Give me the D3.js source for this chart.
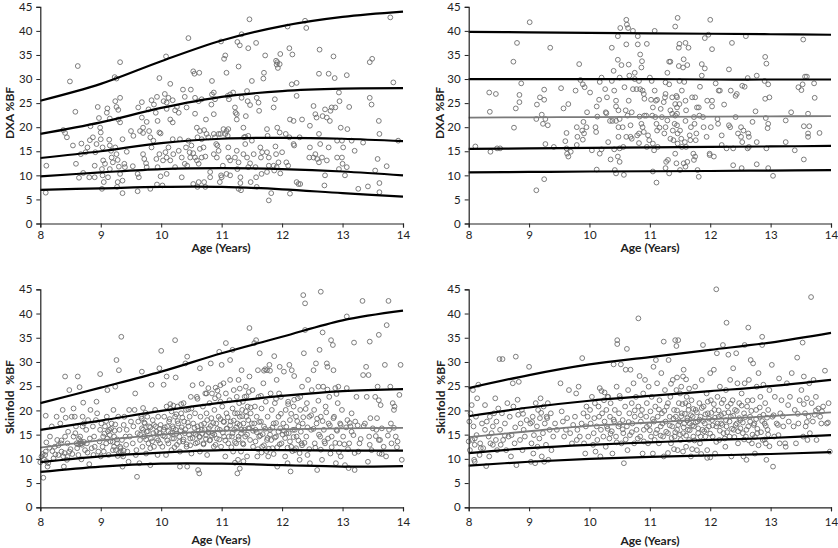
<!DOCTYPE html>
<html><head><meta charset="utf-8">
<script src="https://cdn.jsdelivr.net/npm/d3@7"></script>
<style>
body{margin:0;background:#fff;}
svg{display:block;font-family:Lato,"Open Sans",sans-serif;}
.ttl{font-size:12px;font-weight:bold;fill:#222;white-space:pre;}
</style></head><body>
<script>
const xTicks = [8,9,10,11,12,13,14];
const yTicks = [0,5,10,15,20,25,30,35,40,45];
const curveAges = [8,9,10,11,12,13,14];

const p1Curves = [
  [25.5,29.0,33.7,38.0,41.0,42.9,44.0],
  [18.6,21.0,24.0,26.3,27.5,28.0,28.1],
  [13.6,15.0,16.7,17.6,17.8,17.6,17.1],
  [9.8,10.6,11.3,11.5,11.3,10.8,10.0],
  [7.0,7.3,7.6,7.6,7.1,6.3,5.6]
];
const p1Gray = [false,false,false,false,false];
const p2Curves = [
  [39.8,39.7,39.6,39.5,39.4,39.3,39.2],
  [30.0,30.0,30.0,30.0,29.9,29.9,29.9],
  [22.0,22.05,22.1,22.15,22.2,22.25,22.3],
  [15.5,15.6,15.7,15.8,15.9,16.0,16.1],
  [10.6,10.7,10.8,10.85,10.9,11.0,11.1]
];
const p2Gray = [false,false,true,false,false];
const p3Curves = [
  [21.5,24.7,28.0,31.8,35.2,38.6,40.6],
  [16.0,17.9,19.9,21.6,23.0,24.0,24.4],
  [12.3,13.8,15.0,15.8,16.1,16.3,16.4],
  [9.3,10.5,11.3,11.8,11.8,11.7,11.7],
  [7.3,8.4,9.0,9.0,8.7,8.4,8.5]
];
const p3Gray = [false,false,true,false,false];
const p4Curves = [
  [24.6,27.3,29.5,31.0,32.5,34.0,36.0],
  [18.8,20.6,22.0,23.0,24.0,25.0,26.3],
  [14.5,15.7,16.8,17.5,18.2,18.8,19.6],
  [11.2,12.2,12.9,13.4,13.9,14.3,14.9],
  [8.6,9.4,10.0,10.4,10.7,11.0,11.4]
];
const p4Gray = [false,false,true,false,false];

const p1Points = [
[8.09,6.4],[8.1,12.0],[8.49,29.5],[8.62,32.7],[8.58,23.2],[8.38,19.4],[8.41,18.8],[8.44,17.9],[8.54,16.2],[8.59,12.4],[8.64,9.5],[8.67,14.4],[8.68,16.6],[8.71,10.5],[8.75,14.8],[8.78,15.8],[8.81,9.6],[8.82,17.3],[8.83,20.2],[8.87,17.9],[8.9,9.6],[8.9,12.0],[8.91,14.8],[8.93,16.5],[8.95,24.2],[8.97,21.9],[8.99,19.9],[9,18.9],[9,17.5],[9.02,11.3],[9.02,7.2],[9.03,15.8],[9.04,13.1],[9.03,10.0],[9.05,8.6],[9.07,12.4],
[9.1,23.0],[9.11,23.9],[9.15,21.8],[9.14,17.4],[9.15,16.2],[9.17,15.1],[9.18,13.7],[9.2,12.7],[9.15,11.3],[9.12,9.6],[9.23,30.4],[9.26,30.1],[9.32,33.5],[9.24,25.4],[9.26,24.2],[9.29,23.6],[9.32,26.1],[9.29,21.6],[9.32,21.0],[9.24,15.8],[9.26,14.4],[9.28,13.2],[9.3,11.8],[9.32,10.3],[9.28,8.6],[9.27,7.6],[9.36,6.3],[9.36,8.9],[9.36,17.5],[9.39,12.4],[9.4,11.7],[9.43,14.9],[9.5,19.2],[9.54,18.2],[9.53,11.9],[9.61,10.3],[9.61,6.7],[9.63,9.6],[9.62,24.1],[9.68,25.2],[9.68,22.0],[9.7,19.9],[9.7,18.8],[9.65,19.2],[9.7,14.4],[9.72,13.4],[9.75,12.5],[9.76,11.7],[9.76,21.1],[9.79,23.7],[9.8,19.2],[9.82,17.9],[9.82,7.2],[9.84,15.8],[9.87,17.2],[9.84,25.6],[9.88,24.7],[9.93,26.3],[9.97,30.2],[9.91,23.0],[9.94,21.3],[9.97,18.9],[9.99,18.7],[9.92,13.4],[9.94,11.7],[9.97,14.4],[9.99,9.8],[9.93,8.1],[10.02,7.9],
[10.08,34.7],[10.06,26.9],[10.04,25.4],[10.09,25.1],[10.12,26.1],[10.15,29.0],[10.19,25.6],[10.09,23.8],[10.15,21.6],[10.19,21.0],[10.23,23.5],[10.26,24.2],[10.29,23.0],[10.07,14.8],[10.03,13.1],[10.09,13.7],[10.12,15.8],[10.15,13.1],[10.19,17.5],[10.2,14.4],[10.23,11.7],[10.09,10.3],[10.29,15.1],[10.31,17.5],[10.34,13.7],[10.34,9.6],[10.36,27.8],[10.39,26.3],[10.42,24.1],[10.45,38.5],[10.49,27.8],[10.39,12.4],[10.41,15.8],[10.45,17.2],[10.47,14.8],[10.48,13.7],[10.43,12.0],[10.5,16.2],[10.53,31.6],[10.55,31.1],[10.63,31.3],[10.56,26.1],[10.62,25.4],[10.67,25.8],[10.56,22.8],[10.59,19.9],[10.64,19.2],[10.71,19.4],[10.53,14.6],[10.56,13.7],[10.59,13.1],[10.62,12.4],[10.64,15.5],[10.67,13.7],[10.7,15.8],[10.73,13.9],[10.6,17.9],[10.67,17.5],[10.53,8.2],[10.62,8.6],[10.6,7.6],[10.71,8.6],[10.74,21.6],[10.75,18.6],[10.78,17.9],[10.81,10.7],[10.73,7.6],[10.81,9.6],[10.84,29.6],[10.84,26.8],[10.87,27.2],[10.89,25.8],[10.83,24.7],[10.87,22.7],[10.87,18.6],[10.89,17.9],[10.91,16.5],[10.93,16.2],[10.95,18.6],[10.87,14.4],[10.92,13.7],[10.95,15.1],[10.98,18.6],[10.99,37.8],[10.99,10.0],[11,9.6],[10.97,8.6],
[11.04,34.2],[11.06,34.9],[11.08,31.3],[11.1,26.5],[11.12,25.8],[11.14,26.8],[11.02,12.0],[11.03,19.6],[11.06,18.6],[11.08,19.2],[11.11,19.6],[11.1,18.2],[11.11,13.7],[11.14,13.1],[11.08,10.3],[11.11,15.8],[11.14,10.0],[11.19,27.2],[11.22,24.1],[11.23,23.0],[11.25,22.7],[11.25,21.6],[11.25,15.1],[11.22,13.7],[11.26,11.3],[11.28,12.7],[11.28,7.2],[11.31,9.6],[11.31,8.4],[11.32,6.9],[11.26,37.7],[11.3,37.0],[11.28,32.6],[11.33,39.3],[11.33,26.1],[11.36,19.9],[11.37,17.9],[11.39,16.5],[11.4,22.3],[11.42,27.5],[11.43,25.4],[11.36,14.4],[11.42,13.7],[11.39,18.0],[11.44,18.2],[11.44,11.7],[11.47,12.5],[11.48,8.6],[11.44,36.4],[11.46,42.4],[11.5,29.6],[11.47,24.6],[11.5,17.2],[11.53,14.4],[11.56,11.7],[11.57,9.6],[11.58,26.1],[11.57,37.5],[11.58,7.6],[11.61,25.1],[11.62,23.4],[11.64,15.8],[11.65,13.7],[11.67,14.8],[11.66,10.3],[11.72,34.9],[11.7,31.3],[11.69,30.1],[11.75,19.6],[11.76,18.2],[11.75,14.8],[11.78,13.7],[11.78,12.0],[11.75,10.7],[11.78,4.8],[11.82,6.3],[11.86,24.1],[11.88,25.8],[11.9,33.8],[11.91,33.0],[11.93,32.3],[11.92,33.5],[11.96,33.1],[11.97,35.2],[11.89,16.0],[11.9,14.4],[11.91,11.7],[11.94,12.7],[11.92,19.9],[11.96,18.9],[11.97,10.4],[12,14.8],[11.86,12.0],[11.87,11.0],
[12.09,40.9],[12.12,36.4],[12.17,35.1],[12.13,21.6],[12.16,28.9],[12.24,29.2],[12.24,26.5],[12.06,18.6],[12.07,12.7],[12.1,12.0],[12.12,17.9],[12.13,6.2],[12.19,21.3],[12.19,16.5],[12.2,16.2],[12.24,8.6],[12.27,8.2],[12.3,8.2],[12.29,17.9],[12.38,42.1],[12.4,40.6],[12.33,21.6],[12.46,20.3],[12.46,15.8],[12.45,13.7],[12.52,24.4],[12.55,22.7],[12.57,22.0],[12.52,13.7],[12.58,13.4],[12.55,14.4],[12.61,12.7],[12.61,18.6],[12.61,31.1],[12.62,36.1],[12.63,16.5],[12.66,13.7],[12.67,22.3],[12.71,10.0],[12.7,7.9],[12.71,23.7],[12.77,31.1],[12.74,22.0],[12.79,21.3],[12.8,23.4],[12.77,15.8],[12.74,13.1],[12.82,24.1],[12.85,34.7],[12.87,30.2],[12.88,24.1],[12.91,17.2],[12.91,13.7],[12.94,11.3],[12.94,27.2],[12.95,25.4],[12.97,19.9],[12.99,17.2],[12.99,13.7],[13,12.4],[13.01,15.8],
[13.07,30.8],[13.08,19.6],[13.07,11.7],[13.04,10.0],[13.11,24.2],[13.15,17.2],[13.2,15.1],[13.26,7.2],[13.34,16.8],[13.42,7.7],[13.45,33.5],[13.49,34.2],[13.45,26.1],[13.48,24.7],[13.54,11.0],[13.58,13.4],[13.6,21.3],[13.61,18.6],[13.61,8.4],[13.61,6.5],[13.73,11.9],[13.79,42.8],[13.84,29.3],[13.92,17.2]
];

const p2Points = [
[8.11,16.0],[8.34,27.2],[8.35,23.2],[8.36,14.9],[8.45,26.9],[8.47,15.6],[8.52,15.6],[8.74,33.6],[8.75,19.9],[8.78,23.9],[8.8,37.5],[8.84,26.7],[8.84,25.2],[8.87,29.1],[9.01,41.8],[9.13,24.7],[9.12,21.7],[9.12,6.9],[9.18,26.2],[9.21,22.6],[9.23,20.7],[9.25,27.8],[9.25,25.7],[9.27,21.7],[9.27,16.5],[9.25,9.2],[9.31,20.4],[9.35,36.5],[9.41,15.9],[9.53,28.1],[9.57,23.9],[9.6,17.1],[9.62,18.8],[9.65,24.8],[9.62,15.6],[9.63,14.5],[9.65,13.9],[9.69,14.9],[9.77,27.6],[9.79,20.0],[9.8,18.0],[9.79,16.3],[9.83,33.1],[9.85,29.8],[9.89,28.9],[9.92,28.3],[9.88,19.3],[9.9,21.1],[9.91,18.7],[9.89,17.4],[9.95,20.0],[9.96,23.1],[10.01,27.2],[10.04,15.2],
[10.1,20.0],[10.11,19.0],[10.12,24.3],[10.13,22.2],[10.12,11.2],[10.16,25.7],[10.17,29.4],[10.2,30.3],[10.17,14.5],[10.2,15.4],[10.26,27.9],[10.27,23.1],[10.28,22.9],[10.29,26.2],[10.31,16.9],[10.34,21.3],[10.35,13.3],[10.37,29.6],[10.38,21.3],[10.4,31.7],[10.41,27.6],[10.37,36.5],[10.41,15.4],[10.42,11.1],[10.44,21.3],[10.44,24.3],[10.47,38.9],[10.47,34.0],[10.5,30.3],[10.48,23.5],[10.5,21.7],[10.48,20.0],[10.44,25.5],[10.48,18.0],[10.5,15.6],[10.47,13.9],[10.5,12.8],[10.44,10.4],[10.51,40.6],[10.53,32.9],[10.55,20.0],[10.56,15.9],[10.58,28.3],[10.6,23.5],[10.57,10.1],[10.61,18.0],[10.61,42.3],[10.62,41.3],[10.64,40.6],[10.61,37.2],[10.65,33.0],[10.66,30.7],[10.65,25.5],[10.63,22.4],[10.68,20.4],[10.68,18.0],[10.7,17.6],[10.7,23.1],[10.72,40.0],[10.72,27.9],[10.75,31.3],[10.75,30.0],[10.78,27.9],[10.79,18.3],[10.8,37.2],[10.82,18.7],[10.8,38.9],[10.82,29.6],[10.84,27.9],[10.83,22.2],[10.86,20.7],[10.82,16.7],[10.84,35.1],[10.87,33.7],[10.86,32.4],[10.88,27.6],[10.9,26.9],[10.91,25.9],[10.88,20.0],[10.91,22.4],[10.9,19.0],[10.94,22.4],[10.95,15.9],[10.97,18.3],[10.99,17.3],[10.95,37.3],[11,30.3],
[11.02,25.7],[11.03,29.6],[11.05,24.1],[11.04,22.4],[11.05,16.6],[11.08,40.0],[11.08,27.6],[11.1,25.5],[11.12,25.7],[11.09,22.1],[11.11,20.7],[11.12,19.3],[11.13,15.9],[11.07,15.2],[11.05,10.8],[11.11,8.5],[11.18,23.8],[11.16,19.9],[11.2,22.1],[11.23,25.2],[11.25,26.2],[11.26,26.9],[11.26,29.3],[11.24,18.7],[11.26,20.0],[11.29,21.4],[11.27,12.8],[11.3,13.2],[11.26,11.5],[11.29,31.3],[11.32,33.6],[11.34,33.6],[11.32,28.9],[11.32,10.4],[11.34,17.6],[11.34,23.5],[11.37,22.8],[11.37,26.2],[11.38,19.3],[11.39,17.3],[11.41,20.7],[11.42,22.4],[11.42,24.8],[11.42,40.9],[11.44,26.5],[11.45,26.2],[11.45,24.1],[11.45,22.8],[11.44,12.5],[11.42,14.5],[11.45,20.4],[11.46,18.7],[11.46,16.6],[11.46,42.7],[11.48,36.5],[11.49,37.3],[11.48,32.7],[11.49,29.6],[11.49,24.8],[11.5,19.3],[11.52,17.6],[11.53,15.9],[11.5,11.1],[11.53,27.6],[11.55,32.4],[11.56,34.1],[11.59,37.5],[11.57,29.4],[11.59,25.5],[11.6,23.5],[11.59,21.3],[11.6,15.9],[11.56,12.5],[11.59,11.8],[11.62,12.8],[11.58,16.9],[11.62,32.9],[11.64,36.5],[11.66,18.3],[11.67,17.3],[11.68,20.0],[11.7,26.2],[11.72,14.5],[11.73,22.1],[11.74,20.7],[11.75,26.2],[11.73,13.2],[11.75,13.9],[11.76,17.3],[11.77,18.7],[11.78,24.1],[11.81,24.1],[11.82,22.4],[11.79,11.1],[11.81,9.7],[11.83,28.4],[11.86,33.1],[11.86,30.7],[11.88,22.1],[11.89,20.0],[11.91,38.5],[11.91,32.2],[11.94,18.0],[11.95,25.5],[11.97,39.2],[11.99,14.5],[11.99,14.2],
[12,42.3],[12.01,20.0],[12.03,36.2],[12.03,25.5],[12.03,24.3],[12.06,13.9],[12.09,29.1],[12.12,21.7],[12.13,20.7],[12.14,27.6],[12.16,27.6],[12.19,18.3],[12.19,16.3],[12.23,24.7],[12.27,15.6],[12.31,32.0],[12.31,20.4],[12.33,20.0],[12.34,27.6],[12.36,37.5],[12.38,12.1],[12.38,15.6],[12.42,26.5],[12.42,22.1],[12.44,26.9],[12.46,18.7],[12.51,18.0],[12.51,20.0],[12.52,11.5],[12.53,16.9],[12.53,28.6],[12.55,19.3],[12.57,28.4],[12.59,38.9],[12.62,30.2],[12.63,18.7],[12.64,18.0],[12.62,15.6],[12.64,15.9],[12.7,21.1],[12.75,23.3],[12.77,16.9],[12.77,12.3],[12.77,30.7],[12.9,29.6],[12.91,34.6],[12.93,33.2],[12.91,25.9],[12.92,21.9],[12.95,19.8],[12.93,15.6],[12.96,28.9],[12.96,20.7],[12.98,26.2],[12.96,11.5],[13.04,9.9],[13.25,21.4],[13.25,16.9],[13.34,23.1],[13.4,15.2],[13.46,28.3],[13.51,27.7],[13.53,28.9],[13.54,38.2],[13.55,13.3],[13.55,20.2],[13.57,30.5],[13.6,30.5],[13.62,22.8],[13.62,18.7],[13.62,18.0],[13.64,20.2],[13.72,29.1],[13.73,26.1],[13.81,18.8]
];

const p3Points = [
[8,9.3],[8.02,10.5],[8.05,6.1],[8.08,10.8],[8.09,11.5],[8.1,13.4],[8.09,18.9],[8.12,8.4],[8.13,9.1],[8.16,14.6],[8.19,16.7],[8.22,10.1],[8.24,12.5],[8.27,18.7],[8.28,13.9],[8.3,10.8],[8.33,17.3],[8.34,13.2],[8.35,11.5],[8.37,20.1],[8.38,10.5],[8.39,8.4],[8.41,27.0],[8.41,14.6],[8.42,18.5],[8.44,9.8],[8.45,13.2],[8.46,15.6],[8.48,11.5],[8.48,24.2],[8.62,27.0],[8.65,24.8],[8.52,18.7],[8.55,20.4],[8.57,18.7],[8.59,16.7],[8.6,13.2],[8.61,12.2],[8.63,10.8],[8.66,14.6],[8.67,13.6],[8.68,13.2],[8.7,16.7],[8.71,21.6],[8.68,9.9],[8.7,18.7],[8.72,17.3],[8.74,11.8],[8.76,16.0],[8.77,13.2],[8.78,11.3],[8.79,18.0],[8.81,8.9],[8.82,14.2],[8.83,20.1],[8.85,12.2],[8.87,16.7],[8.88,10.8],[8.89,14.6],[8.9,12.5],[8.92,18.0],[8.93,21.8],[8.94,19.4],[8.96,11.5],[8.98,13.6],[8.99,16.0],[9,10.5],[8.99,27.5],
[9.01,17.3],[9.03,12.5],[9.04,14.6],[9.05,11.5],[9.07,16.7],[9.09,13.2],[9.1,18.7],[9.11,14.2],[9.11,24.2],[9.13,10.8],[9.14,16.0],[9.15,14.9],[9.16,13.6],[9.18,17.3],[9.2,11.8],[9.21,20.1],[9.22,14.6],[9.24,17.1],[9.24,24.9],[9.26,30.4],[9.27,13.2],[9.29,18.7],[9.3,28.3],[9.31,16.0],[9.32,12.5],[9.33,11.5],[9.34,35.2],[9.35,13.9],[9.36,8.4],[9.37,10.5],[9.38,17.0],[9.39,18.7],[9.41,14.6],[9.42,12.9],[9.43,16.0],[9.44,11.5],[9.46,9.4],[9.47,20.1],[9.48,14.6],[9.5,17.7],
[9.53,13.2],[9.54,16.7],[9.56,20.1],[9.57,23.5],[9.58,10.8],[9.59,11.8],[9.6,6.3],[9.61,15.3],[9.62,17.7],[9.64,9.1],[9.65,13.9],[9.67,18.7],[9.68,28.0],[9.68,16.3],[9.69,12.5],[9.7,20.5],[9.72,14.6],[9.73,17.3],[9.75,11.1],[9.76,15.6],[9.77,18.7],[9.79,13.2],[9.8,16.7],[9.82,8.7],[9.83,14.2],[9.84,25.3],[9.86,18.0],[9.87,15.3],[9.88,12.5],[9.9,20.1],[9.91,16.7],[9.93,14.2],[9.94,10.8],[9.95,18.7],[9.97,28.7],[9.97,15.3],[9.98,13.2],[9.99,17.0],[10,32.3],
[10.02,12.5],[10.04,25.3],[10.04,16.0],[10.05,18.7],[10.06,14.6],[10.08,10.8],[10.09,20.8],[10.09,27.0],[10.1,16.7],[10.12,13.2],[10.13,17.7],[10.15,21.3],[10.16,15.3],[10.17,11.8],[10.17,19.8],[10.19,16.7],[10.2,21.0],[10.21,14.2],[10.23,34.5],[10.23,18.7],[10.24,26.8],[10.24,16.0],[10.26,12.9],[10.27,20.8],[10.28,17.3],[10.3,14.6],[10.31,8.4],[10.31,11.5],[10.33,19.4],[10.34,16.5],[10.36,13.6],[10.37,21.5],[10.38,17.7],[10.39,15.3],[10.4,29.7],[10.41,20.1],[10.42,12.5],[10.43,31.1],[10.43,8.4],[10.45,16.7],[10.47,18.7],[10.48,14.2],[10.49,22.8],[10.5,11.1],[10.5,20.4],
[10.52,25.2],[10.53,17.3],[10.54,15.3],[10.56,19.4],[10.57,13.2],[10.59,22.8],[10.6,16.7],[10.61,7.7],[10.63,7.0],[10.63,14.6],[10.64,11.5],[10.64,28.7],[10.65,18.7],[10.67,25.5],[10.67,16.0],[10.69,20.8],[10.7,13.2],[10.71,17.3],[10.73,23.5],[10.74,14.9],[10.75,19.4],[10.76,10.8],[10.78,24.6],[10.79,16.3],[10.8,21.5],[10.81,13.9],[10.82,29.7],[10.83,18.4],[10.84,23.5],[10.85,15.3],[10.87,12.5],[10.88,20.1],[10.89,22.5],[10.91,17.3],[10.92,14.2],[10.93,24.1],[10.95,18.7],[10.96,32.1],[10.97,16.0],[10.98,21.8],[10.99,12.5],[11,29.4],
[11.01,20.8],[11.03,25.6],[11.03,17.7],[11.04,14.6],[11.06,10.5],[11.07,23.5],[11.07,33.9],[11.08,19.4],[11.09,16.3],[11.11,13.2],[11.13,22.1],[11.14,26.3],[11.14,30.4],[11.15,17.7],[11.17,14.6],[11.18,20.4],[11.18,32.5],[11.19,11.5],[11.2,24.2],[11.21,16.0],[11.22,19.4],[11.24,13.2],[11.25,22.8],[11.26,7.0],[11.26,17.3],[11.28,14.6],[11.28,26.3],[11.29,21.5],[11.3,18.7],[11.32,11.5],[11.33,16.0],[11.33,28.3],[11.34,20.1],[11.35,13.2],[11.36,17.3],[11.38,22.8],[11.39,14.6],[11.4,24.9],[11.41,18.7],[11.42,10.5],[11.43,20.8],[11.44,16.3],[11.46,37.0],[11.46,27.0],[11.47,13.9],[11.48,19.4],[11.5,17.3],
[11.51,24.2],[11.52,12.5],[11.54,33.9],[11.55,20.8],[11.56,16.0],[11.57,34.5],[11.58,18.7],[11.59,10.5],[11.6,28.3],[11.61,22.8],[11.62,14.6],[11.63,31.8],[11.65,17.7],[11.66,20.4],[11.67,12.5],[11.69,25.6],[11.7,16.7],[11.72,28.5],[11.73,21.8],[11.75,13.9],[11.76,18.7],[11.77,10.5],[11.79,29.4],[11.8,16.0],[11.81,23.5],[11.83,20.1],[11.84,12.2],[11.86,17.3],[11.87,31.2],[11.88,21.5],[11.9,14.6],[11.91,26.3],[11.92,8.4],[11.94,18.7],[11.96,29.0],[11.97,16.3],[11.98,22.8],[11.99,13.2],
[12.02,17.3],[12.03,28.0],[12.05,10.5],[12.06,20.1],[12.07,15.3],[12.09,9.1],[12.1,21.8],[12.12,29.4],[12.13,18.0],[12.14,7.4],[12.15,12.5],[12.16,28.3],[12.18,16.0],[12.19,20.8],[12.2,27.1],[12.21,11.8],[12.23,18.7],[12.24,14.6],[12.26,22.5],[12.27,16.7],[12.29,9.8],[12.3,20.1],[12.32,13.2],[12.33,24.9],[12.34,17.3],[12.35,43.8],[12.36,31.8],[12.38,42.1],[12.38,36.6],[12.4,14.6],[12.41,21.5],[12.42,10.8],[12.43,26.3],[12.45,18.7],[12.46,9.1],[12.48,16.0],[12.49,24.2],
[12.52,28.3],[12.53,20.1],[12.54,13.2],[12.56,29.7],[12.57,17.3],[12.58,7.7],[12.6,24.9],[12.62,32.5],[12.63,14.6],[12.64,44.5],[12.64,18.7],[12.66,9.8],[12.67,36.1],[12.68,24.9],[12.69,16.0],[12.71,13.2],[12.72,20.8],[12.74,29.7],[12.75,29.0],[12.77,17.3],[12.78,22.8],[12.8,11.1],[12.81,34.5],[12.82,14.6],[12.84,33.5],[12.85,28.3],[12.86,18.7],[12.88,24.6],[12.89,9.1],[12.9,16.0],[12.92,21.5],[12.93,24.9],[12.95,13.2],[12.96,17.3],[12.97,10.5],[12.99,20.1],
[13.01,14.6],[13.04,8.7],[13.07,39.4],[13.07,24.6],[13.08,18.0],[13.1,8.1],[13.11,13.2],[13.13,16.7],[13.15,19.4],[13.18,14.9],[13.2,7.7],[13.19,34.0],[13.21,17.7],[13.23,22.8],[13.26,11.5],[13.28,13.2],[13.33,42.6],[13.34,27.3],[13.37,17.3],[13.39,29.0],[13.4,22.8],[13.42,9.4],[13.43,27.3],[13.44,14.6],[13.45,34.2],[13.46,18.4],[13.48,11.8],
[13.54,22.8],[13.56,16.0],[13.57,18.4],[13.58,24.9],[13.6,35.6],[13.6,22.1],[13.61,11.1],[13.62,13.9],[13.63,21.1],[13.65,16.3],[13.68,12.5],[13.7,29.4],[13.72,10.5],[13.73,37.6],[13.76,42.6],[13.77,16.0],[13.79,24.9],[13.8,17.3],[13.81,13.2],[13.83,21.5],[13.85,20.1],[13.86,20.8],[13.88,14.6],[13.91,13.6],[13.94,23.2],[13.96,29.4],[13.98,9.8],
[8.63,13.0],[8.66,13.1],[8.69,12.9],[8.64,14.1],[8.58,15.3],[8.72,13.5],[9.22,12.5],[9.25,11.8],[9.28,10.6],[9.3,11.2],[9.33,12.2],[9.35,10.9],[9.38,11.7],[9.2,13.5],[9.27,14.0],[9.23,15.8],[9.17,16.2],[9.12,15.7],[9.06,15.2],[9.09,17.8],
[9.65,15.0],[9.7,16.0],[9.72,17.5],[9.75,14.0],[9.78,15.7],[9.82,16.5],[9.85,13.6],[9.88,17.0],[9.92,15.6],[9.95,13.8],[9.98,16.2],[9.68,18.3],[9.74,19.5],[9.82,12.2],
[10.03,14.8],[10.06,16.5],[10.1,13.8],[10.12,15.7],[10.14,18.2],[10.18,14.2],[10.2,16.3],[10.22,12.4],[10.25,15.2],[10.27,17.8],[10.3,13.5],[10.32,15.9],[10.35,18.5],[10.37,14.0],[10.4,16.1],[10.42,13.0],[10.44,17.5],[10.46,15.0],[10.48,12.8],[10.15,20.4],[10.25,19.2],[10.33,21.3],[10.45,20.2],
[10.52,14.3],[10.55,16.4],[10.57,15.0],[10.6,13.4],[10.62,15.8],[10.64,14.5],[10.66,17.0],[10.68,15.2],[10.7,13.0],[10.72,16.1],[10.74,14.1],[10.76,18.0],[10.78,15.5],[10.8,13.8],[10.82,16.8],[10.84,14.8],[10.86,17.4],[10.88,15.0],[10.9,12.9],[10.93,16.2],[10.96,14.0],[10.98,18.2],[10.6,22.4],[10.75,23.5],[10.9,24.7],[10.95,23.0],[10.98,25.2],
[11.02,15.4],[11.04,17.6],[11.06,13.8],[11.08,16.2],[11.1,18.6],[11.12,14.6],[11.14,16.9],[11.16,12.4],[11.18,15.3],[11.2,17.9],[11.22,13.5],[11.24,16.5],[11.26,19.4],[11.28,14.0],[11.3,17.0],[11.32,15.2],[11.34,18.8],[11.36,13.0],[11.38,16.0],[11.4,19.8],[11.42,15.0],[11.44,18.0],[11.46,16.3],[11.48,20.6],[11.35,21.8],[11.41,22.9],[11.45,23.8],[11.3,24.5],[11.36,9.5],[11.27,9.8],[11.22,9.2],[11.3,8.0],
[11.52,15.8],[11.54,17.3],[11.56,13.6],[11.58,15.5],[11.6,12.0],[11.62,17.6],[11.64,14.8],[11.66,11.3],[11.68,15.1],[11.7,12.8],[11.72,16.2],[11.74,11.6],[11.76,14.3],[11.78,12.1],[11.8,15.0],[11.82,13.9],[11.84,16.5],[11.86,11.0],[11.88,14.4],[11.9,17.4],[11.92,12.4],[11.94,15.6],[11.96,13.0],[11.98,19.3],[11.65,23.0],[11.7,28.2],[11.75,28.3],[11.8,28.2],[11.9,22.4],[11.95,23.5],
[12.01,15.0],[12.03,15.8],[12.05,14.3],[12.07,16.6],[12.09,12.3],[12.11,15.3],[12.13,13.6],[12.15,19.3],[12.17,11.6],[12.19,14.5],[12.21,16.0],[12.23,12.2],[12.25,17.8],[12.27,13.8],[12.29,11.2],[12.31,15.6],[12.33,12.8],[12.35,18.6],[12.37,13.3],[12.39,20.3],[12.42,16.5],[12.45,12.0],[12.48,19.0],[12.2,22.2],[12.3,22.8],[12.1,21.3],
[12.52,16.2],[12.55,12.3],[12.58,18.3],[12.61,15.0],[12.64,11.9],[12.67,17.8],[12.7,13.6],[12.73,19.6],[12.76,14.2],[12.79,16.9],[12.82,12.4],[12.85,18.4],[12.88,13.3],[12.91,15.8],[12.94,11.4],[12.97,17.0],[12.6,22.0],[12.75,24.3],[12.9,23.4],
[13.03,13.0],[13.06,16.5],[13.09,12.0],[13.12,17.4],[13.15,15.6],[13.2,11.2],[13.25,16.9],[13.3,14.1],[13.35,16.8],[13.45,12.9],[13.5,16.3],[13.55,14.7],[13.6,13.9],[13.65,11.0],[13.75,14.8],[13.85,16.4],[13.9,12.4],
[8.04,11.0],[8.06,9.9],[8.1,9.5],[8.15,12.3],[8.2,11.6],[8.25,10.9],[8.3,12.8],[8.35,13.8],[8.4,11.2],[8.45,10.4],[8.5,12.0],[8.55,14.6],[8.53,11.0]
];

const p4Points = [
[8,13.6],[8.01,17.7],[8.02,11.8],[8.03,19.4],[8.05,21.1],[8.06,13.9],[8.07,24.2],[8.08,16.7],[8.09,9.8],[8.1,9.4],[8.1,12.9],[8.12,18.7],[8.13,14.9],[8.14,22.5],[8.16,25.3],[8.18,10.8],[8.19,13.2],[8.22,17.3],[8.24,12.2],[8.27,16.0],[8.27,21.1],[8.29,8.5],[8.3,17.7],[8.33,14.6],[8.34,10.5],[8.35,18.7],[8.36,13.2],[8.38,15.3],[8.4,16.7],[8.42,19.4],[8.44,22.5],[8.45,13.9],[8.46,17.7],[8.47,11.8],[8.49,20.4],
[8.51,30.6],[8.56,30.6],[8.52,16.0],[8.53,12.9],[8.55,19.4],[8.57,13.9],[8.6,17.3],[8.62,11.8],[8.64,21.5],[8.66,14.6],[8.68,18.7],[8.7,10.5],[8.71,14.9],[8.73,25.6],[8.74,20.8],[8.76,13.2],[8.77,16.5],[8.78,31.1],[8.79,8.7],[8.81,22.2],[8.82,19.1],[8.83,25.9],[8.85,13.9],[8.86,17.3],[8.88,20.1],[8.89,11.8],[8.91,16.0],[8.93,14.6],[8.96,18.0],
[9,29.0],[9.02,17.3],[9.03,9.4],[9.04,13.2],[9.06,18.7],[9.07,11.1],[9.08,14.9],[9.1,9.1],[9.11,21.5],[9.13,16.7],[9.14,12.5],[9.15,20.1],[9.17,14.2],[9.18,18.4],[9.19,22.5],[9.21,10.5],[9.23,15.3],[9.24,20.8],[9.25,9.4],[9.26,17.3],[9.28,12.9],[9.29,18.7],[9.31,21.5],[9.32,9.8],[9.34,16.0],[9.36,19.4],[9.37,11.8],[9.4,14.6],[9.43,17.3],[9.46,16.0],
[9.52,25.6],[9.54,19.8],[9.56,17.7],[9.58,14.6],[9.61,16.0],[9.63,18.4],[9.66,24.2],[9.68,15.3],[9.71,13.2],[9.73,17.0],[9.76,18.7],[9.78,23.5],[9.79,13.9],[9.8,16.0],[9.82,24.9],[9.84,14.6],[9.87,17.3],[9.88,30.8],[9.9,19.4],[9.91,13.2],[9.93,11.1],[9.94,16.7],[9.95,20.8],[9.97,18.7],[9.98,14.6],
[10.01,20.1],[10.02,17.3],[10.04,22.8],[10.06,12.9],[10.07,15.3],[10.08,18.4],[10.09,21.5],[10.1,11.5],[10.12,16.7],[10.13,13.9],[10.15,20.8],[10.16,18.7],[10.17,24.6],[10.18,10.5],[10.19,16.0],[10.21,19.4],[10.23,14.6],[10.24,22.1],[10.25,17.7],[10.27,12.5],[10.28,20.1],[10.29,16.7],[10.31,22.8],[10.33,14.2],[10.34,18.7],[10.35,21.5],[10.37,15.7],[10.38,11.1],[10.4,29.5],[10.41,17.7],[10.42,20.1],[10.44,14.6],[10.45,24.9],[10.46,34.5],[10.46,33.7],[10.48,16.7],[10.49,19.4],
[10.51,22.5],[10.52,29.5],[10.53,13.2],[10.55,18.0],[10.56,15.3],[10.57,9.1],[10.59,20.8],[10.6,28.4],[10.62,16.7],[10.62,32.7],[10.63,11.8],[10.64,24.2],[10.66,19.4],[10.67,14.9],[10.68,28.4],[10.7,21.5],[10.71,17.3],[10.73,25.6],[10.74,13.2],[10.75,18.7],[10.77,22.8],[10.78,16.0],[10.81,39.0],[10.81,20.8],[10.83,27.1],[10.84,14.6],[10.85,17.7],[10.87,20.1],[10.88,11.1],[10.89,23.5],[10.9,16.0],[10.92,26.3],[10.94,18.7],[10.95,21.5],[10.97,13.2],[10.98,24.9],[10.99,17.0],
[11.01,19.8],[11.02,14.6],[11.03,22.8],[11.05,11.1],[11.06,29.0],[11.07,17.7],[11.09,20.8],[11.1,30.4],[11.1,15.3],[11.12,25.6],[11.13,18.7],[11.15,13.2],[11.16,22.1],[11.18,16.7],[11.19,27.7],[11.2,19.4],[11.22,14.6],[11.23,34.2],[11.23,10.5],[11.25,24.2],[11.26,17.7],[11.28,20.8],[11.3,15.3],[11.31,30.4],[11.33,18.7],[11.34,22.8],[11.35,13.2],[11.37,16.7],[11.38,26.3],[11.4,20.1],[11.41,14.6],[11.42,34.5],[11.43,18.7],[11.44,33.3],[11.44,24.2],[11.45,16.0],[11.46,11.8],[11.47,34.5],[11.48,21.5],[11.49,17.7],[11.51,13.9],
[11.52,24.9],[11.53,19.4],[11.55,15.3],[11.56,28.4],[11.57,17.3],[11.59,21.5],[11.6,12.5],[11.61,22.8],[11.62,18.4],[11.63,16.0],[11.64,20.1],[11.65,13.9],[11.66,17.3],[11.68,10.5],[11.69,22.1],[11.71,18.7],[11.72,14.6],[11.73,16.7],[11.75,24.9],[11.76,20.1],[11.78,11.8],[11.79,17.7],[11.8,15.3],[11.82,21.5],[11.83,13.2],[11.84,18.7],[11.86,26.3],[11.87,16.0],[11.88,33.5],[11.89,20.8],[11.91,17.3],[11.92,14.6],[11.94,23.5],[11.95,11.8],[11.96,19.4],[11.98,16.7],
[12,27.7],[12.01,22.1],[12.03,18.0],[12.04,14.6],[12.06,28.4],[12.07,20.1],[12.08,11.1],[12.1,45.0],[12.1,16.7],[12.11,31.8],[12.12,22.8],[12.14,18.7],[12.15,13.9],[12.16,24.9],[12.18,17.3],[12.19,21.5],[12.21,33.5],[12.22,15.3],[12.23,19.4],[12.25,12.5],[12.26,24.2],[12.27,38.1],[12.27,16.7],[12.29,20.8],[12.3,31.5],[12.32,14.6],[12.33,26.3],[12.34,18.7],[12.35,10.5],[12.37,22.1],[12.38,28.7],[12.39,16.0],[12.41,20.1],[12.43,31.8],[12.44,17.3],[12.45,25.6],[12.46,13.2],[12.48,21.5],
[12.5,18.0],[12.52,23.5],[12.54,15.3],[12.55,10.5],[12.56,19.4],[12.57,33.5],[12.57,25.6],[12.59,14.6],[12.6,9.8],[12.61,20.8],[12.63,37.1],[12.63,16.7],[12.64,26.3],[12.66,18.7],[12.67,30.4],[12.69,13.2],[12.7,22.1],[12.71,29.7],[12.73,17.3],[12.74,11.1],[12.76,20.1],[12.77,24.9],[12.78,15.3],[12.8,27.7],[12.82,18.7],[12.83,22.8],[12.86,35.2],[12.86,33.5],[12.87,13.9],[12.88,25.3],[12.9,17.3],[12.91,21.5],[12.92,13.2],[12.93,9.8],[12.95,16.0],[12.96,20.1],[12.98,24.2],
[13.02,29.4],[13.03,18.7],[13.04,8.4],[13.06,14.6],[13.07,22.8],[13.1,17.3],[13.13,14.9],[13.14,26.6],[13.15,13.2],[13.16,19.4],[13.18,22.1],[13.21,16.7],[13.24,13.2],[13.25,12.5],[13.27,25.6],[13.29,21.1],[13.32,22.8],[13.35,27.7],[13.38,16.7],[13.4,20.1],[13.42,13.2],[13.44,30.9],[13.46,17.3],[13.48,22.1],
[13.51,24.2],[13.53,34.0],[13.54,14.6],[13.55,27.0],[13.57,19.4],[13.58,16.7],[13.6,22.5],[13.61,13.9],[13.63,18.7],[13.64,25.6],[13.65,15.3],[13.67,43.4],[13.68,21.5],[13.7,17.7],[13.71,26.3],[13.73,19.1],[13.75,22.8],[13.76,13.9],[13.79,20.4],[13.82,18.7],[13.84,17.3],[13.87,20.8],[13.9,28.2],[13.93,17.3],[13.96,21.5],[13.98,11.5],
[10.3,16.2],[10.35,15.2],[10.4,18.1],[10.45,13.4],[10.5,17.2],[10.55,16.1],[10.6,14.0],[10.65,17.6],[10.7,15.5],[10.75,20.0],[10.8,14.2],[10.85,19.0],[10.9,13.6],[10.95,16.6],[11.0,15.9],[11.05,18.2],[11.08,13.9],[11.12,16.0],[11.15,20.2],[11.18,14.8],[11.21,17.3],[11.24,19.9],[11.27,15.6],[11.3,21.5],[11.33,16.9],[11.36,14.3],[11.39,18.3],[11.42,15.5],[11.45,20.0],[11.47,17.0],[11.5,15.0],[11.52,18.8],[11.54,21.3],[11.56,16.5],[11.58,19.3],[11.6,14.8],[11.62,17.9],[11.64,21.0],[11.66,15.9],[11.68,19.0],[11.7,16.9],[11.72,20.3],[11.74,13.8],[11.76,17.5],[11.78,19.6],[11.8,16.3],[11.82,18.1],[11.84,14.6],[11.86,20.5],[11.88,17.8],[11.9,15.7],[11.92,19.2],[11.94,16.0],[11.96,21.8],[11.98,18.3],
[12.0,15.2],[12.02,19.5],[12.04,16.9],[12.06,21.3],[12.08,18.5],[12.1,13.5],[12.12,17.3],[12.14,20.0],[12.16,15.8],[12.18,19.0],[12.2,17.0],[12.22,22.2],[12.24,14.2],[12.26,18.0],[12.28,15.5],[12.3,19.6],[12.32,17.7],[12.34,21.4],[12.36,16.2],[12.38,18.9],[12.4,14.5],[12.42,17.0],[12.44,19.9],[12.46,15.7],[12.48,18.4],[12.5,16.3],[12.52,21.0],[12.54,17.5],[12.56,14.0],[12.58,18.6],[12.6,16.0],[12.62,22.0],[12.64,13.8],[12.66,17.7],[12.68,19.9],[12.7,15.0],[12.72,17.0],[12.74,14.5],[12.76,18.2],[12.78,16.2],[12.8,12.8],[12.82,20.6],[12.84,15.5],[12.86,17.8],[12.88,19.1],[12.9,14.0],[12.92,16.8],[12.94,18.5],[12.96,15.0],[12.98,12.6],
[11.35,25.5],[11.45,26.8],[11.55,27.0],[11.6,26.4],[11.5,23.5],[11.65,24.5],[11.4,12.0],[11.55,11.5],[11.7,12.0],[11.85,11.0],[11.95,10.2],[12.0,10.3],[11.3,11.2],[10.2,24.0],[10.25,23.7],[10.5,23.0],[10.3,22.8],[9.2,19.5],[9.3,18.4],[9.05,17.6],[8.9,19.3],[8.6,14.8],[8.4,12.9],[8.2,12.2],[8.1,14.2],[13.2,18.8],[13.3,17.7],[13.55,21.3],[13.75,20.0],[13.85,19.8],[13.95,17.5],[13.6,17.6],[13.45,19.3],[13.12,17.0],[13.05,19.0]
];

const panels = [
  {x0:40.3, x1:403, yb:223.5, yt:6.8, title:"DXA %BF", tx:10, ty:113, ax:221, ay:252, pad:3.3, pts:p1Points, curves:p1Curves, gray:p1Gray},
  {x0:468.7, x1:831, yb:223.5, yt:6.8, title:"DXA %BF", tx:440, ty:113, ax:650, ay:252, pad:3.3, pts:p2Points, curves:p2Curves, gray:p2Gray},
  {x0:40.3, x1:403, yb:507.3, yt:289.3, title:"Skinfold  %BF", tx:10, ty:397, ax:221, ay:544, pad:7, pts:p3Points, curves:p3Curves, gray:p3Gray},
  {x0:468.7, x1:831, yb:507.3, yt:289.3, title:"Skinfold  %BF", tx:441, ty:397, ax:650, ay:545, pad:7, pts:p4Points, curves:p4Curves, gray:p4Gray}
];

const svg = d3.select("body").append("svg").attr("width",838).attr("height",548);

panels.forEach(p => {
  const x = d3.scaleLinear().domain([8,14]).range([p.x0,p.x1]);
  const y = d3.scaleLinear().domain([0,45]).range([p.yb,p.yt]);
  const g = svg.append("g");

  g.append("g").selectAll("circle").data(p.pts).join("circle")
    .attr("cx", d => x(d[0])).attr("cy", d => y(d[1])).attr("r", 2.4)
    .attr("fill","none").attr("stroke","#6e6e6e").attr("stroke-width",0.9);

  const line = d3.line().x((d,i)=>x(curveAges[i])).y(d=>y(d)).curve(d3.curveCatmullRom.alpha(0.5));
  p.curves.forEach((c,i) => {
    g.append("path").attr("d", line(c)).attr("fill","none")
      .attr("stroke", p.gray[i] ? "#7a7a7a" : "#000")
      .attr("stroke-width", p.gray[i] ? 1.8 : 2.2);
  });

  const xa = g.append("g").attr("transform",`translate(0,${p.yb})`)
    .call(d3.axisBottom(x).tickValues(xTicks).tickSize(4).tickPadding(p.pad).tickFormat(d3.format("d")));
  const ya = g.append("g").attr("transform",`translate(${p.x0},0)`)
    .call(d3.axisLeft(y).tickValues(yTicks).tickSize(4).tickPadding(4));
  [xa,ya].forEach(a => {
    a.select(".domain").attr("stroke","#222").attr("stroke-width",1.2);
    a.selectAll(".tick line").attr("stroke","#222");
    a.selectAll(".tick text").attr("fill","#222").style("font-size","11.5px")
      .style("font-family","Lato, 'Open Sans', sans-serif");
  });

  g.append("text").attr("class","ttl").attr("text-anchor","middle")
    .attr("transform",`translate(${p.tx+4},${p.ty}) rotate(-90)`).text(p.title);
  g.append("text").attr("class","ttl").attr("text-anchor","middle")
    .attr("x",p.ax).attr("y",p.ay).text("Age (Years)");
});
</script>
</body></html>
